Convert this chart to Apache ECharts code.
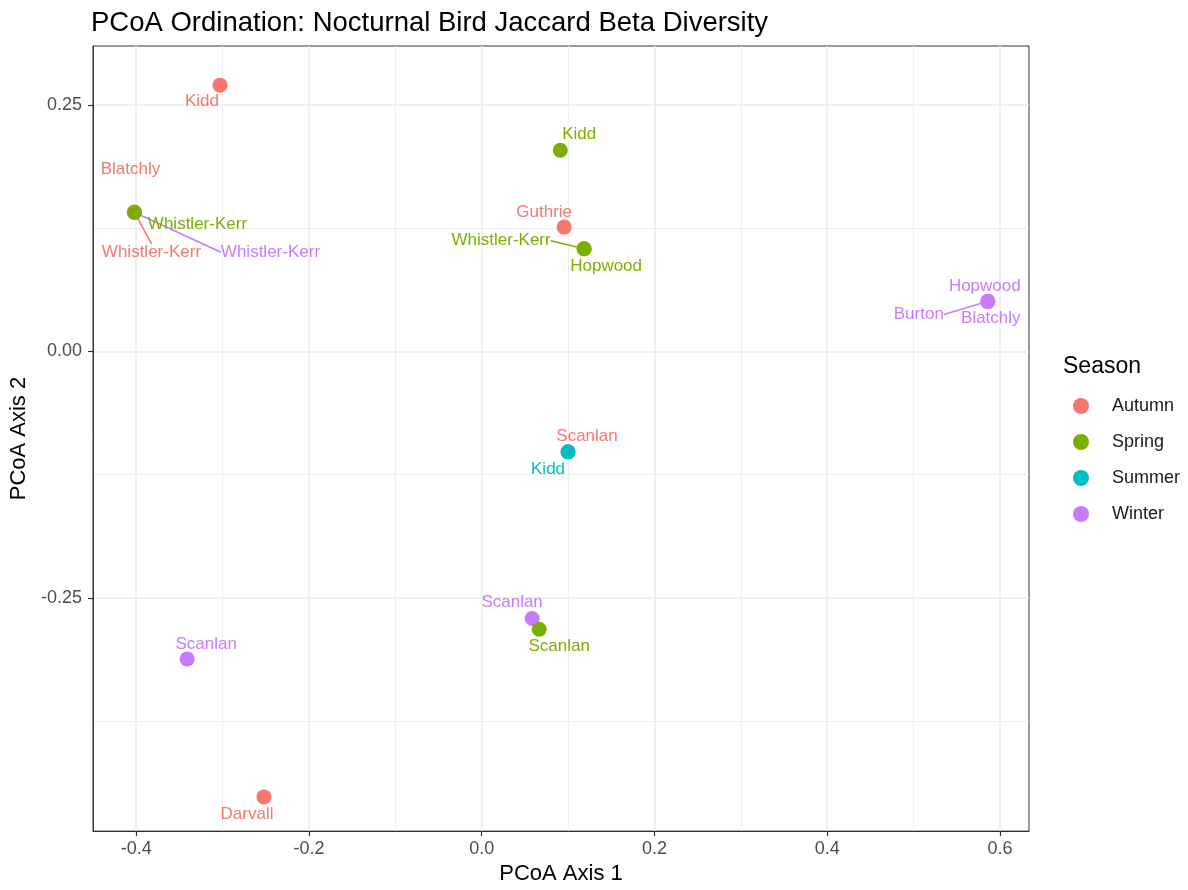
<!DOCTYPE html>
<html>
<head>
<meta charset="utf-8">
<script src="https://cdn.jsdelivr.net/npm/echarts@6/dist/echarts.min.js"></script>
<style>
    html, body { margin: 0; padding: 0; background: #fff; overflow: hidden; }
    #chart { width: 1188px; height: 890px; }
</style>
</head>
<body>
<div id="chart"></div>
<script>
// seasons in legend order
var seasons = ['Autumn', 'Spring', 'Summer', 'Winter'];
var seasonColors = ['#F8766D', '#7CAE00', '#00BFC4', '#C77CFF'];

var autumnSites = ['Kidd', 'Blatchly', 'Whistler-Kerr', 'Guthrie', 'Scanlan', 'Darvall'];
var autumnX = [-0.303, -0.402, -0.402, 0.0955, 0.100, -0.252];
var autumnY = [0.270, 0.141, 0.141, 0.126, -0.102, -0.452];

var springSites = ['Kidd', 'Whistler-Kerr', 'Whistler-Kerr', 'Hopwood', 'Scanlan'];
var springX = [0.091, -0.402, 0.1186, 0.1186, 0.0666];
var springY = [0.204, 0.141, 0.104, 0.104, -0.282];

var summerSites = ['Kidd'];
var summerX = [0.100];
var summerY = [-0.102];

var winterSites = ['Whistler-Kerr', 'Hopwood', 'Burton', 'Blatchly', 'Scanlan', 'Scanlan'];
var winterX = [-0.402, 0.586, 0.586, 0.586, 0.0584, -0.341];
var winterY = [0.141, 0.0506, 0.0506, 0.0506, -0.271, -0.312];

var xTicks = [-0.4, -0.2, 0.0, 0.2, 0.4, 0.6];
var xMinor = [-0.3, -0.1, 0.1, 0.3, 0.5];
var yTicks = [-0.25, 0.0, 0.25];
var yMinor = [-0.375, -0.125, 0.125];

// label placement (repel-like), pixel offsets from point, and which get a segment
var labelShift = {
    Autumn: [[-18, 16], [-4, -43], [17, 40], [-20, -15], [19, -16], [-17, 17]],
    Spring: [[19, -16], [63, 12], [-83, -8], [22, 18], [20, 17]],
    Summer: [[-20, 17]],
    Winter: [[136, 40], [-3, -15], [-69, 13], [3, 17], [-20, -16], [19, -15]]
};
var withSegment = {
    Autumn: [2],
    Spring: [2],
    Summer: [],
    Winter: [0, 2]
};

var FONT = '"Liberation Sans", Arial, Helvetica, sans-serif';

function makeSeries(name, sites, xs, ys) {
    var color = seasonColors[seasons.indexOf(name)];
    var shifts = labelShift[name];
    return {
        name: name,
        type: 'scatter',
        symbol: 'circle',
        symbolSize: 15,
        itemStyle: { color: color, opacity: 1 },
        label: {
            show: true,
            position: 'inside',
            formatter: '{b}',
            color: color,
            fontFamily: FONT,
            fontSize: 17
        },
        labelLine: { show: false, lineStyle: { color: color, width: 1.6 } },
        labelLayout: function (p) {
            var s = shifts[p.dataIndex];
            return { dx: s[0], dy: s[1] };
        },
        data: sites.map(function (site, i) {
            var item = { name: site, value: [xs[i], ys[i]] };
            if (withSegment[name].indexOf(i) >= 0) {
                item.labelLine = { show: true, lineStyle: { color: color, width: 1.6 } };
            }
            return item;
        })
    };
}

var chart = echarts.init(document.getElementById('chart'));

var gridLine = { show: true, lineStyle: { color: '#EBEBEB', width: 1.6 } };
var minorLine = { show: true, lineStyle: { color: '#EEEEEE', width: 1 } };

chart.setOption({
    animation: false,
    backgroundColor: '#fff',
    title: [
        {
            text: 'PCoA Ordination: Nocturnal Bird Jaccard Beta Diversity',
            left: 91, top: 9, padding: 0,
            textStyle: { fontFamily: FONT, fontSize: 27.5, fontWeight: 'normal', color: '#000' }
        },
        {
            text: 'Season',
            left: 1063, top: 355, padding: 0,
            textStyle: { fontFamily: FONT, fontSize: 23, fontWeight: 'normal', color: '#000' }
        }
    ],
    legend: {
        data: seasons,
        orient: 'vertical',
        left: 1073, top: 397,
        padding: 0,
        itemWidth: 16, itemHeight: 16,
        itemGap: 18,
        icon: 'circle',
        textStyle: { fontFamily: FONT, fontSize: 18, color: '#1a1a1a', lineHeight: 18, padding: [0, 0, 0, 18] }
    },
    grid: {
        left: 92, right: 159, top: 46, bottom: 53,
        show: true, borderColor: '#333', borderWidth: 1, backgroundColor: 'transparent'
    },
    xAxis: [
        {
            type: 'value', min: -0.450, max: 0.6337,
            name: 'PCoA Axis 1', nameLocation: 'middle', nameGap: 30,
            nameTextStyle: { fontFamily: FONT, fontSize: 22, color: '#000' },
            axisLine: { show: true, onZero: false, lineStyle: { color: '#333', width: 1 } },
            axisTick: { show: true, length: 5, customValues: xTicks, lineStyle: { color: '#333', width: 1.2 } },
            axisLabel: {
                customValues: xTicks, margin: 9, color: '#4D4D4D', fontFamily: FONT, fontSize: 18,
                formatter: function (v) { return v.toFixed(1); }
            },
            splitLine: gridLine,
            z: 1
        },
        {
            type: 'value', min: -0.450, max: 0.6337, show: true, position: 'bottom',
            axisLine: { show: false }, axisLabel: { show: false },
            axisTick: { show: false, customValues: xMinor },
            splitLine: minorLine, z: 0
        }
    ],
    yAxis: [
        {
            type: 'value', min: -0.4867, max: 0.3097,
            name: 'PCoA Axis 2', nameLocation: 'middle', nameGap: 63,
            nameTextStyle: { fontFamily: FONT, fontSize: 22, color: '#000' },
            axisLine: { show: true, onZero: false, lineStyle: { color: '#333', width: 1 } },
            axisTick: { show: true, length: 5, customValues: yTicks, lineStyle: { color: '#333', width: 1.2 } },
            axisLabel: {
                customValues: yTicks, margin: 11, color: '#4D4D4D', fontFamily: FONT, fontSize: 18,
                formatter: function (v) { return v.toFixed(2); }
            },
            splitLine: gridLine,
            z: 1
        },
        {
            type: 'value', min: -0.4867, max: 0.3097, show: true, position: 'left',
            axisLine: { show: false }, axisLabel: { show: false },
            axisTick: { show: false, customValues: yMinor },
            splitLine: minorLine, z: 0
        }
    ],
    series: [
        makeSeries('Autumn', autumnSites, autumnX, autumnY),
        makeSeries('Winter', winterSites, winterX, winterY),
        makeSeries('Summer', summerSites, summerX, summerY),
        makeSeries('Spring', springSites, springX, springY)
    ]
});
</script>
</body>
</html>
